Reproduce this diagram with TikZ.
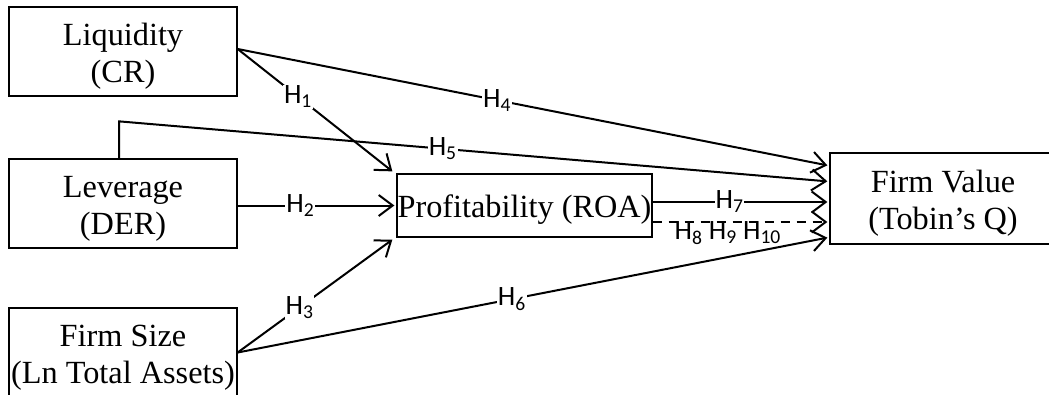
\documentclass[tikz,border=0pt]{standalone}
\usepackage{fontspec}
\setmainfont{Liberation Serif}
\newfontfamily\labelfont{Carlito}
\usetikzlibrary{arrows.meta,calc}

\tikzset{
  varbox/.style={draw=black, line width=1.3pt, inner sep=0pt, align=center,
    text height=30pt, text depth=6pt,
    font=\fontsize{32.3}{37}\selectfont},
  twoline/.style={text height=67pt},
  link/.style={line width=2pt, -{Straight Barb[length=14pt,width=21pt,line width=2pt]}},
  hyp/.style={fill=white, inner sep=1pt, font=\labelfont\fontsize{28}{32}\selectfont},
  hypplain/.style={inner sep=1pt, font=\labelfont\fontsize{28}{32}\selectfont},
}

\begin{document}
\begin{tikzpicture}[x=1pt, y=-1pt]
  \useasboundingbox (0,0) rectangle (1049,394);

  % variable boxes
  \node[varbox, twoline, minimum width=228pt, minimum height=89pt] (liq) at (123,51.5)
    {Liquidity\\(CR)};
  \node[varbox, twoline, minimum width=228pt, minimum height=89pt] (lev) at (123,203.5)
    {Leverage\\(DER)};
  \node[varbox, twoline, minimum width=228pt, minimum height=89pt] (size) at (123,352.5)
    {Firm Size\\(Ln Total Assets)};
  \node[varbox, minimum width=255pt, minimum height=63pt] (prof) at (524.5,205.5)
    {Profitability (ROA)};
  \node[varbox, twoline, minimum width=226pt, minimum height=91pt] (fv) at (943,198.5)
    {Firm Value\\(Tobin’s Q)};

  % paths into profitability
  \draw[link] ($(liq.east)+(0,-2.5)$) -- ($(prof.north west)+(-4,-2)$)
    node[hyp, pos=0.39] {H\textsubscript{1}};
  \draw[link] (lev.east |- prof.west) -- ($(prof.west)+(-2,0)$)
    node[hyp, pos=0.40] {H\textsubscript{2}};
  \draw[link] (size.east) -- ($(prof.south west)+(-4,2)$)
    node[hyp, pos=0.40] {H\textsubscript{3}};

  % direct paths into firm value
  \draw[link] ($(liq.east)+(0,-2.5)$) -- ($(fv.north west)+(-2,13)$)
    node[hyp, pos=0.44] {H\textsubscript{4}};
  \draw[link] ($(lev.north)+(-4,0)$) -- ($(lev.north)+(-4,-37)$)
    -- ($(fv.north west)+(-2,29)$)
    node[hyp, pos=0.457] {H\textsubscript{5}};
  \draw[link] (size.east) -- ($(fv.south west)+(-2,-7)$)
    node[hyp, pos=0.465] {H\textsubscript{6}};

  % profitability to firm value
  \draw[link] ($(prof.east)+(0,-3.5)$) -- ($(fv.west |- prof.east)+(-2,-3.5)$)
    node[hyp, pos=0.44] {H\textsubscript{7}};
  \draw[link, dash pattern=on 9pt off 7pt] ($(prof.east)+(0,16.5)$)
    -- ($(fv.west |- prof.east)+(-2,16.5)$)
    node[hypplain, pos=0.43, yshift=-11pt]
      {H\textsubscript{8} H\textsubscript{9} H\textsubscript{10}};
\end{tikzpicture}
\end{document}
